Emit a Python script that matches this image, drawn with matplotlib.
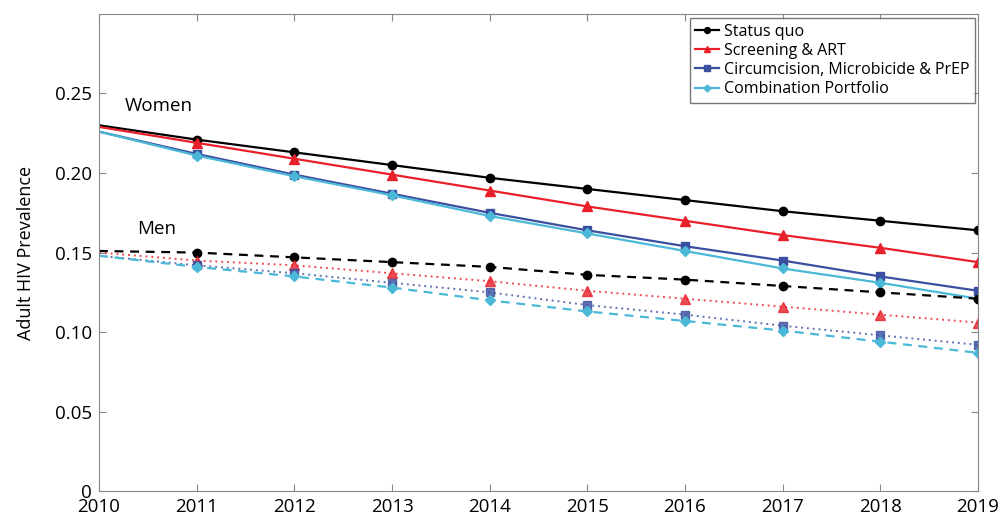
import matplotlib
matplotlib.use("Agg")
import matplotlib.pyplot as plt

plt.rcParams['font.family'] = ['Open Sans', 'DejaVu Sans']

years = list(range(2010, 2020))
series_names = ["Status quo", "Screening & ART", "Circumcision, Microbicide & PrEP", "Combination Portfolio"]

women_status_quo = [0.230, 0.221, 0.213, 0.205, 0.197, 0.190, 0.183, 0.176, 0.170, 0.164]
women_screening = [0.229, 0.219, 0.209, 0.199, 0.189, 0.179, 0.170, 0.161, 0.153, 0.144]
women_circumcision = [0.226, 0.212, 0.199, 0.187, 0.175, 0.164, 0.154, 0.145, 0.135, 0.126]
women_combination = [0.226, 0.211, 0.198, 0.186, 0.173, 0.162, 0.151, 0.140, 0.131, 0.121]

men_status_quo = [0.151, 0.150, 0.147, 0.144, 0.141, 0.136, 0.133, 0.129, 0.125, 0.121]
men_screening = [0.150, 0.145, 0.142, 0.137, 0.132, 0.126, 0.121, 0.116, 0.111, 0.106]
men_circumcision = [0.148, 0.142, 0.137, 0.131, 0.125, 0.117, 0.111, 0.104, 0.098, 0.092]
men_combination = [0.148, 0.141, 0.135, 0.128, 0.120, 0.113, 0.107, 0.101, 0.094, 0.087]

y_ticks = [0, 0.05, 0.10, 0.15, 0.20, 0.25]
y_tick_labels = ["0", "0.05", "0.10", "0.15", "0.20", "0.25"]

colors = ["#000000", "#e8202a", "#3a4fa0", "#4bb8d8"]
markers = ["o", "^", "s", "D"]
msizes = [6, 7, 6, 5]

fig = plt.figure(figsize=(10, 5.16), dpi=100)
ax = fig.add_axes([0.099, 0.048, 0.879, 0.925])

women = [women_status_quo, women_screening, women_circumcision, women_combination]
men = [men_status_quo, men_screening, men_circumcision, men_combination]
men_styles = [(0, (4, 3)), (0, (1, 2)), (0, (1, 2)), (0, (4, 3))]

for i in range(4):
    ax.plot(years, women[i], color=colors[i], lw=1.6, marker=markers[i], ms=msizes[i],
            markevery=slice(1, None), label=series_names[i])
for i in range(4):
    ax.plot(years, men[i], color=colors[i], lw=1.6 if i in (0, 3) else 1.4,
            linestyle=men_styles[i], marker=markers[i], ms=msizes[i],
            markevery=slice(1, None), alpha=1.0 if i in (0, 3) else 0.8)

ax.set_xlim(2010, 2019)
ax.set_ylim(0, 0.3)
ax.set_xticks(years)
ax.set_xticklabels([str(y) for y in years])
ax.set_yticks(y_ticks)
ax.set_yticklabels(y_tick_labels)
ax.tick_params(direction="in", top=True, right=True, labelsize=13.5, length=5, color="#888888", pad=5)
for s in ax.spines.values():
    s.set_color("#888888")
ax.set_ylabel("Adult HIV Prevalence", fontsize=13, labelpad=14)

ax.text(2010.26, 0.242, "Women", fontsize=13.5, va="center")
ax.text(2010.39, 0.165, "Men", fontsize=13.5, va="center")

leg = ax.legend(loc="upper right", fontsize=11.5, fancybox=False, edgecolor="#555555",
                handlelength=1.5, handletextpad=0.3, borderpad=0.35, labelspacing=0.2,
                bbox_to_anchor=(1.006, 1.008), markerscale=0.7)
leg.get_frame().set_linewidth(1.0)

fig.savefig("out.png", dpi=100)
